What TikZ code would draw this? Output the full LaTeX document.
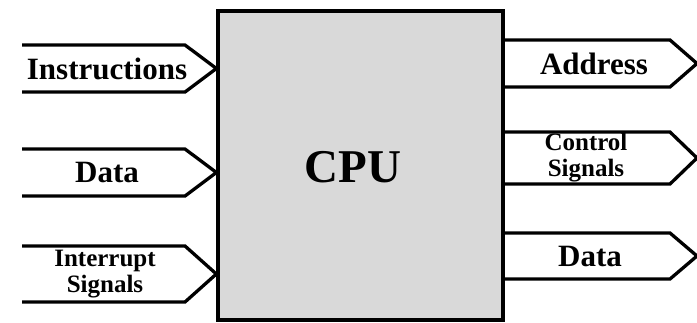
\documentclass[tikz,border=0pt]{standalone}
\usepackage{fontspec}
\setmainfont{Liberation Serif}
\usepackage{tikz}
\definecolor{Box}{HTML}{D9D9D9}

\begin{document}
\begin{tikzpicture}[x=1pt, y=-1pt,
    bus/.style={line width=3.3pt, line join=miter},
    big/.style={font=\fontsize{31}{31}\selectfont\bfseries, inner sep=0pt},
    small/.style={font=\fontsize{25}{26}\selectfont\bfseries, align=center, inner sep=0pt}]
    \useasboundingbox (0,0) rectangle (697,322);
    % processor
    \node[draw, line width=3.3pt, fill=Box, minimum width=285pt, minimum height=309pt, inner sep=0pt] (cpu) at (360.5,165.5) {};
    \node[font=\fontsize{47}{47}\selectfont\bfseries, inner sep=0pt] (cpulbl) at (353,167) {CPU};
    % inputs
    \node[big] (ins) at (107,68.5) {Instructions};
    \node[big] (din) at (107,172.5) {Data};
    \node[small] (irq) at (105,274) {Interrupt\\Signals};
    \draw[bus] (22,45) -- (185,45) -- (cpu.west |- ins) -- (185,92) -- (22,92);
    \draw[bus] (22,149) -- (185,149) -- (cpu.west |- din) -- (185,196) -- (22,196);
    \draw[bus] (22,246) -- (185,246) -- (cpu.west |- irq) -- (185,302) -- (22,302);
    % outputs
    \node[big] (adr) at (594,63.5) {Address};
    \node[small] (ctl) at (586,158) {Control\\Signals};
    \node[big] (dout) at (590,256) {Data};
    \draw[bus] (cpu.east |- adr) ++(0,-23.5) -- (670,40) -- (697,63.5) -- (670,87) -- (503,87);
    \draw[bus] (cpu.east |- ctl) ++(0,-26) -- (670,132) -- (697,158) -- (670,184) -- (503,184);
    \draw[bus] (cpu.east |- dout) ++(0,-23) -- (670,233) -- (697,256) -- (670,279) -- (503,279);
\end{tikzpicture}
\end{document}
